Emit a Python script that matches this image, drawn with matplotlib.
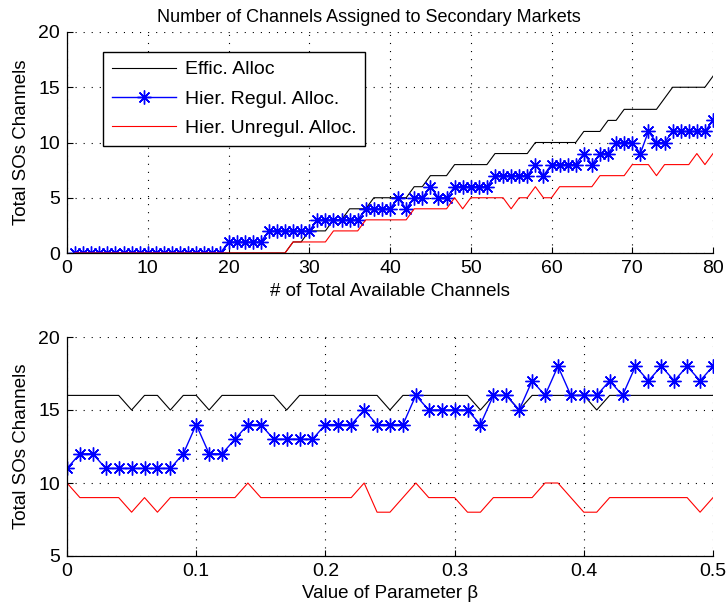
import matplotlib
matplotlib.use('Agg')
import matplotlib.pyplot as plt
import numpy as np

plt.rcParams['font.family'] = ['Liberation Sans', 'DejaVu Sans']
plt.rcParams['lines.scale_dashes'] = False

# top panel: channels vs # of total available channels
n_channels = list(range(1, 81))
effic_top = [0]*27 + [1, 1, 2, 2, 2, 3, 3, 4, 4, 4, 5, 5, 5, 5, 5, 6, 6, 7, 7, 7,
             8, 8, 8, 8, 8, 9, 9, 9, 9, 9, 10, 10, 10, 10, 10, 10, 11, 11, 11,
             12, 12, 13, 13, 13, 13, 13, 14, 15, 15, 15, 15, 15, 16]
regul_top = [0]*19 + [1]*5 + [2]*6 + [3]*6 + [4]*4 + [5, 4, 5, 5, 6, 5, 5,
             6, 6, 6, 6, 6, 7, 7, 7, 7, 7, 8, 7, 8, 8, 8, 8, 9, 8, 9, 9,
             10, 10, 10, 9, 11, 10, 10, 11, 11, 11, 11, 11, 12]
unreg_top = [0]*27 + [1]*5 + [2]*4 + [3]*6 + [4]*5 + [5, 4, 5, 5, 5, 5, 5,
             4, 5, 5, 6, 5, 5, 6, 6, 6, 6, 6, 7, 7, 7, 7, 8, 8, 8, 7, 8, 8,
             8, 8, 9, 8, 9]

# bottom panel: channels vs beta
beta = [round(0.01*i, 2) for i in range(51)]
effic_bot = [16, 16, 16, 16, 16, 15, 16, 16, 15, 16, 16, 15, 16, 16, 16, 16, 16,
             15, 16, 16, 16, 16, 16, 16, 16, 15, 16, 16, 16, 16, 16, 16, 15, 16,
             16, 15, 16, 16, 16, 16, 16, 15, 16, 16, 16, 16, 16, 16, 16, 16, 16]
regul_bot = [11, 12, 12, 11, 11, 11, 11, 11, 11, 12, 14, 12, 12, 13, 14, 14, 13,
             13, 13, 13, 14, 14, 14, 15, 14, 14, 14, 16, 15, 15, 15, 15, 14, 16,
             16, 15, 17, 16, 18, 16, 16, 16, 17, 16, 18, 17, 18, 17, 18, 17, 18]
unreg_bot = [10, 9, 9, 9, 9, 8, 9, 8, 9, 9, 9, 9, 9, 9, 10, 9, 9, 9, 9, 9, 9, 9,
             9, 10, 8, 8, 9, 10, 9, 9, 9, 8, 8, 9, 9, 9, 9, 10, 10, 9, 8, 8, 9,
             9, 9, 9, 9, 9, 9, 8, 9]

labels = ['Effic. Alloc', 'Hier. Regul. Alloc.', 'Hier. Unregul. Alloc.']
star = (8, 2, 0)

fig = plt.figure(figsize=(7.28, 6.15), dpi=100)
ax1 = fig.add_axes([67/728, 1-253/615, 646/728, 221/615])
ax2 = fig.add_axes([67/728, 1-556/615, 646/728, 219/615])


def style(ax):
    for s in ['top', 'right']:
        ax.spines[s].set_visible(False)
    for s in ['left', 'bottom']:
        ax.spines[s].set_linewidth(0.9)
    ax.tick_params(direction='in', length=4, width=0.8, labelsize=14, pad=5)
    ax.grid(True, color='black', linestyle=(0, (0.8, 5.0)), linewidth=0.8)
    ax.set_axisbelow(True)


ax1.plot(n_channels, effic_top, color='black', lw=0.8, label=labels[0])
ax1.plot(n_channels, regul_top, color='blue', lw=1.0, marker=star, ms=10,
         mew=1.0, label=labels[1])
ax1.plot(n_channels, unreg_top, color='red', lw=0.8, label=labels[2])
ax1.set_xlim(0, 80)
ax1.set_ylim(0, 20)
ax1.set_xticks(range(0, 81, 10))
ax1.set_yticks(range(0, 21, 5))
style(ax1)
ax1.set_title('Number of Channels Assigned to Secondary Markets', fontsize=13,
              pad=7, x=0.468)
ax1.set_xlabel('# of Total Available Channels', fontsize=13.5, labelpad=4)
ax1.set_ylabel('Total SOs Channels', fontsize=13.5, labelpad=6)
leg = ax1.legend(loc='upper left', bbox_to_anchor=(36/646, (253-52)/221),
                 borderaxespad=0, fancybox=False, framealpha=1, edgecolor='black',
                 fontsize=14, handlelength=3.3, numpoints=1, borderpad=0.45,
                 labelspacing=0.6, handletextpad=0.45)
leg.get_frame().set_linewidth(1.0)

ax2.plot(beta, effic_bot, color='black', lw=0.8)
ax2.plot(beta, regul_bot, color='blue', lw=1.0, marker=star, ms=10, mew=1.0)
ax2.plot(beta, unreg_bot, color='red', lw=0.8)
ax2.set_xlim(0, 0.5)
ax2.set_ylim(5, 20)
ax2.set_xticks([0, 0.1, 0.2, 0.3, 0.4, 0.5])
ax2.set_xticklabels(['0', '0.1', '0.2', '0.3', '0.4', '0.5'])
ax2.set_yticks([5, 10, 15, 20])
style(ax2)
ax2.set_xlabel('Value of Parameter β', fontsize=13.5, labelpad=4)
ax2.set_ylabel('Total SOs Channels', fontsize=13.5, labelpad=6)

fig.savefig('out.png', dpi=100)
